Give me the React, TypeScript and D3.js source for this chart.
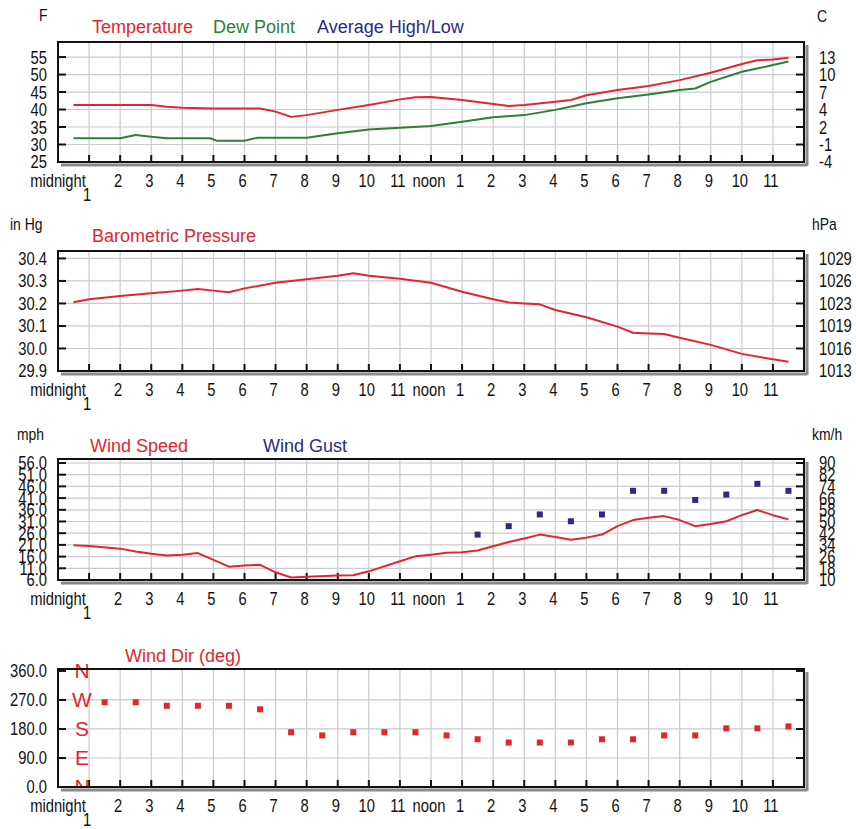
import React, { useEffect, useRef } from 'react';
import * as d3 from 'd3';

// hour labels along every x axis (hour 1 drops to a second row)
const hourLabels = ['midnight', '1', '2', '3', '4', '5', '6', '7', '8', '9', '10', '11',
  'noon', '1', '2', '3', '4', '5', '6', '7', '8', '9', '10', '11'];

// temperature / dew point (F)
const tempHours = [0.5, 1, 2, 3, 3.5, 4, 5, 6, 6.5, 7, 7.5, 8, 9, 10, 11, 11.5, 12, 13, 14, 14.5, 15, 16, 16.5, 17, 18, 19, 20, 21, 22, 22.5, 23, 23.5];
const tempF = [41.3, 41.3, 41.3, 41.3, 40.8, 40.5, 40.3, 40.3, 40.3, 39.4, 37.9, 38.4, 39.9, 41.3, 42.9, 43.5, 43.6, 42.7, 41.6, 41.0, 41.3, 42.2, 42.7, 44.1, 45.6, 46.7, 48.4, 50.5, 53.0, 54.1, 54.3, 54.8];
const dewHours = [0.5, 2, 2.5, 3, 3.5, 4.9, 5.1, 6, 6.4, 8, 9, 10, 11, 12, 13, 14, 15, 16, 17, 18, 19, 20, 20.5, 21, 22, 23, 23.5];
const dewF = [31.8, 31.8, 32.7, 32.2, 31.8, 31.8, 31.1, 31.1, 31.9, 31.9, 33.2, 34.3, 34.8, 35.3, 36.5, 37.8, 38.4, 39.9, 41.8, 43.2, 44.3, 45.6, 46.0, 47.9, 50.8, 52.7, 53.7];
const tempTicks = [25, 30, 35, 40, 45, 50, 55];
const tempTicksC = ['-4', '-1', '2', '4', '7', '10', '13'];

// barometric pressure (in Hg)
const presHours = [0.5, 1, 2, 3, 4, 4.5, 5, 5.5, 6, 7, 8, 9, 9.5, 10, 11, 12, 13, 14, 14.5, 15, 15.5, 16, 17, 18, 18.5, 19, 19.5, 20, 21, 22, 23, 23.5];
const presIn = [30.205, 30.219, 30.233, 30.245, 30.257, 30.264, 30.257, 30.25, 30.267, 30.292, 30.307, 30.323, 30.334, 30.323, 30.31, 30.292, 30.252, 30.219, 30.204, 30.2, 30.196, 30.171, 30.139, 30.097, 30.07, 30.067, 30.064, 30.048, 30.016, 29.976, 29.952, 29.941];
const presTicks = [29.9, 30.0, 30.1, 30.2, 30.3, 30.4];
const presTicksHpa = ['1013', '1016', '1019', '1023', '1026', '1029'];

// wind speed / gust (mph)
const windHours = [0.5, 1, 2, 2.5, 3, 3.5, 4, 4.5, 5, 5.5, 6, 6.5, 7, 7.5, 8, 9, 9.5, 10, 11, 11.5, 12, 12.5, 13, 13.5, 14, 14.5, 15, 15.5, 16, 16.5, 17, 17.5, 18, 18.5, 19, 19.5, 20, 20.5, 21, 21.5, 22, 22.5, 23, 23.5];
const windMph = [20.8, 20.5, 19.4, 18.2, 17.2, 16.5, 16.8, 17.5, 14.6, 11.7, 12.2, 12.5, 9.3, 7.1, 7.4, 7.9, 8.0, 9.7, 14.0, 16.1, 16.8, 17.6, 17.9, 18.6, 20.4, 22.2, 23.7, 25.4, 24.4, 23.2, 24.1, 25.4, 29.0, 31.6, 32.6, 33.3, 31.6, 29.0, 29.9, 31.1, 33.7, 35.9, 33.7, 31.9];
const gustHours = [13.5, 14.5, 15.5, 16.5, 17.5, 18.5, 19.5, 20.5, 21.5, 22.5, 23.5];
const gustMph = [25.4, 29.0, 34.0, 31.1, 34.0, 44.1, 44.1, 40.2, 42.5, 47.1, 44.1];
const windTicks = [6, 11, 16, 21, 26, 31, 36, 41, 46, 51, 56];
const windTicksKmh = ['10', '18', '26', '34', '42', '50', '58', '66', '74', '82', '90'];

// wind direction (deg)
const dirHours = [1.5, 2.5, 3.5, 4.5, 5.5, 6.5, 7.5, 8.5, 9.5, 10.5, 11.5, 12.5, 13.5, 14.5, 15.5, 16.5, 17.5, 18.5, 19.5, 20.5, 21.5, 22.5, 23.5];
const dirDeg = [263, 263, 252, 252, 252, 241, 170, 160, 170, 170, 170, 160, 148, 138, 138, 138, 148, 148, 160, 160, 182, 182, 188];
const dirTicks = [0, 90, 180, 270, 360];
const compass = ['N', 'E', 'S', 'W', 'N'];

const RED = '#e3262d';
const GREEN = '#2f7f34';
const NAVY = '#2b2b86';
const GRID = '#c9c9d1';
const FONT = "'Liberation Sans', Arial, sans-serif";
const SQ = 0.82; // horizontal squeeze for the narrow axis font

const X0 = 58, X1 = 804;

// narrow text: scale x around the origin so the anchor stays where asked
const narrow = (sel: any, xf: any) =>
  sel.attr('x', typeof xf === 'function' ? (d: any, i: number) => xf(d, i) / SQ : xf / SQ)
    .attr('transform', `scale(${SQ},1)`).attr('font-family', FONT);

function App() {
  const ref = useRef<SVGSVGElement>(null);

  useEffect(() => {
    const svg = d3.select(ref.current);
    svg.selectAll('*').remove();
    svg.append('rect').attr('width', 856).attr('height', 829).attr('fill', '#fff');

    const x = d3.scaleLinear().domain([0, 24]).range([X0, X1]);

    const panel = (o: any) => {
      const y = d3.scaleLinear().domain(o.domain).range([o.bottom, o.top]);
      const g = svg.append('g');

      // grid
      g.selectAll('.vg').data(d3.range(1, 24)).join('line')
        .attr('x1', d => x(d)).attr('x2', d => x(d))
        .attr('y1', o.top).attr('y2', o.bottom)
        .attr('stroke', GRID).attr('stroke-width', 1.2);
      g.selectAll('.hg').data(o.ticks.filter((t: number) => y(t) > o.top + 2 && y(t) < o.bottom - 2)).join('line')
        .attr('x1', X0).attr('x2', X1)
        .attr('y1', (d: number) => y(d)).attr('y2', (d: number) => y(d))
        .attr('stroke', GRID).attr('stroke-width', 1.2);

      // ticks
      g.selectAll('.bt').data(d3.range(1, 24)).join('line')
        .attr('x1', d => x(d)).attr('x2', d => x(d))
        .attr('y1', o.bottom).attr('y2', o.bottom - 7)
        .attr('stroke', '#111').attr('stroke-width', 2);
      o.ticks.forEach((t: number) => {
        g.append('line').attr('x1', X0).attr('x2', X0 + 8).attr('y1', y(t)).attr('y2', y(t))
          .attr('stroke', '#111').attr('stroke-width', 2);
        g.append('line').attr('x1', X1 - 8).attr('x2', X1).attr('y1', y(t)).attr('y2', y(t))
          .attr('stroke', '#111').attr('stroke-width', 2);
      });

      o.draw(g, y);

      // frame with shadow
      g.append('line').attr('x1', X0 + 3).attr('x2', X1 + 3).attr('y1', o.bottom + 3).attr('y2', o.bottom + 3)
        .attr('stroke', '#8a8a8a').attr('stroke-width', 3);
      g.append('line').attr('x1', X1 + 3).attr('x2', X1 + 3).attr('y1', o.top + 3).attr('y2', o.bottom + 4)
        .attr('stroke', '#8a8a8a').attr('stroke-width', 3);
      g.append('rect').attr('x', X0).attr('y', o.top).attr('width', X1 - X0).attr('height', o.bottom - o.top)
        .attr('fill', 'none').attr('stroke', '#111').attr('stroke-width', 2);

      // left labels
      narrow(g.selectAll('.ll').data(o.ticks).join('text'), 47)
        .attr('y', (d: number) => y(d) + 6.5)
        .attr('text-anchor', 'end').attr('font-size', 18).attr('fill', '#111')
        .text((d: number) => o.fmt(d));
      if (o.right) {
        narrow(g.selectAll('.rl').data(o.ticks).join('text'), 819)
          .attr('y', (d: number) => y(d) + 6.5)
          .attr('font-size', 18).attr('fill', '#111')
          .text((d: number, i: number) => o.right[i]);
      }

      // hour labels
      narrow(g.selectAll('.xl').data(hourLabels).join('text'), (d: string, i: number) => (i === 0 ? x(0) : x(i) - 2))
        .attr('y', (d: string, i: number) => o.bottom + (i === 1 ? 39 : 25))
        .attr('text-anchor', 'middle').attr('font-size', 18).attr('fill', '#111')
        .text((d: string) => d);

      // units and titles
      o.units.forEach((u: any) => {
        narrow(g.append('text'), u.x).attr('y', u.y).attr('font-size', 17)
          .attr('fill', '#111').text(u.t);
      });
      o.titles.forEach((t: any) => {
        g.append('text').attr('x', t.x).attr('y', t.y).attr('font-family', FONT).attr('font-size', 18)
          .attr('fill', t.c).text(t.t);
      });
    };

    const lineOf = (g: any, y: any, hours: number[], vals: number[], color: string) => {
      const line = d3.line<number>().x((d, i) => x(hours[i])).y(d => y(d));
      g.append('path').datum(vals).attr('fill', 'none').attr('stroke', color)
        .attr('stroke-width', 2).attr('stroke-linejoin', 'round').attr('d', line);
    };
    const dots = (g: any, y: any, hours: number[], vals: number[], color: string) => {
      g.selectAll(null).data(vals).join('rect')
        .attr('x', (d: number, i: number) => x(hours[i]) - 3).attr('y', (d: number) => y(d) - 3)
        .attr('width', 6).attr('height', 6).attr('fill', color);
    };

    panel({
      top: 42, bottom: 162, domain: [25, 59.3], ticks: tempTicks, fmt: (d: number) => String(d), right: tempTicksC,
      units: [{ t: 'F', x: 39, y: 21 }, { t: 'C', x: 817, y: 22 }],
      titles: [{ t: 'Temperature', x: 92, y: 33, c: RED }, { t: 'Dew Point', x: 213, y: 33, c: GREEN },
        { t: 'Average High/Low', x: 317, y: 33, c: NAVY }],
      draw: (g: any, y: any) => { lineOf(g, y, dewHours, dewF, GREEN); lineOf(g, y, tempHours, tempF, RED); },
    });

    panel({
      top: 251, bottom: 371, domain: [29.9, 30.433], ticks: presTicks, fmt: (d: number) => d.toFixed(1), right: presTicksHpa,
      units: [{ t: 'in Hg', x: 10, y: 230 }, { t: 'hPa', x: 812, y: 230 }],
      titles: [{ t: 'Barometric Pressure', x: 92, y: 242, c: RED }],
      draw: (g: any, y: any) => lineOf(g, y, presHours, presIn, RED),
    });

    panel({
      top: 459, bottom: 580, domain: [6, 57.7], ticks: windTicks, fmt: (d: number) => d.toFixed(1), right: windTicksKmh,
      units: [{ t: 'mph', x: 17, y: 440 }, { t: 'km/h', x: 812, y: 440 }],
      titles: [{ t: 'Wind Speed', x: 90, y: 452, c: RED }, { t: 'Wind Gust', x: 263, y: 452, c: NAVY }],
      draw: (g: any, y: any) => { lineOf(g, y, windHours, windMph, RED); dots(g, y, gustHours, gustMph, NAVY); },
    });

    panel({
      top: 669, bottom: 787, domain: [0, 366], ticks: dirTicks, fmt: (d: number) => d.toFixed(1), right: null,
      units: [],
      titles: [{ t: 'Wind Dir (deg)', x: 125, y: 662, c: RED }],
      draw: (g: any, y: any) => {
        dots(g, y, dirHours, dirDeg, RED);
        svg.append('clipPath').attr('id', 'dirclip').append('rect')
          .attr('x', 0).attr('y', 640).attr('width', 200).attr('height', 787 - 640);
        g.append('g').attr('clip-path', 'url(#dirclip)')
          .selectAll('text').data(dirTicks).join('text')
          .attr('x', 82).attr('y', (d: number) => y(d) + 7)
          .attr('text-anchor', 'middle').attr('font-family', FONT).attr('font-size', 21).attr('fill', RED)
          .text((d: number, i: number) => compass[i]);
      },
    });
  }, []);

  return <svg ref={ref} width="856" height="829" style={{ position: 'absolute', left: 0, top: 0 }}></svg>;
}

export default App;
